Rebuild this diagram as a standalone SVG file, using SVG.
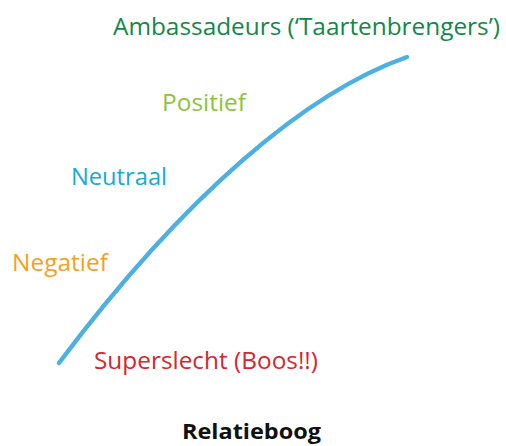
<svg xmlns="http://www.w3.org/2000/svg" width="506" height="446" viewBox="0 0 506 446">
<style>
.lbl{font-family:"Open Sans","Noto Sans","Liberation Sans",sans-serif;font-size:24px}
.title{font-family:"Open Sans","Noto Sans","Liberation Sans",sans-serif;font-size:21px;font-weight:bold;fill:#111}
.curve{fill:none;stroke:#4cb0e2;stroke-width:4.5;stroke-linecap:round}
</style>
<rect width="506" height="446" fill="#fff"/>
<g id="connectors">
<path class="curve" d="M59,363 C185,195 307,92 407,57"/>
</g>
<g id="ambassadeurs"><text class="lbl" x="113" y="35" fill="#13874a" textLength="387" lengthAdjust="spacingAndGlyphs">Ambassadeurs (‘Taartenbrengers’)</text></g>
<g id="positief"><text class="lbl" x="162" y="111" fill="#8cc43c" textLength="84" lengthAdjust="spacingAndGlyphs">Positief</text></g>
<g id="neutraal"><text class="lbl" x="71" y="185" fill="#15aad8" textLength="96" lengthAdjust="spacingAndGlyphs">Neutraal</text></g>
<g id="negatief"><text class="lbl" x="12" y="271" fill="#f6a01c" textLength="96" lengthAdjust="spacingAndGlyphs">Negatief</text></g>
<g id="superslecht"><text class="lbl" x="94" y="369" fill="#d6262e" textLength="224" lengthAdjust="spacingAndGlyphs">Superslecht (Boos!!)</text></g>
<g id="relatieboog"><text class="title" x="182" y="439" textLength="139" lengthAdjust="spacingAndGlyphs">Relatieboog</text></g>
</svg>
